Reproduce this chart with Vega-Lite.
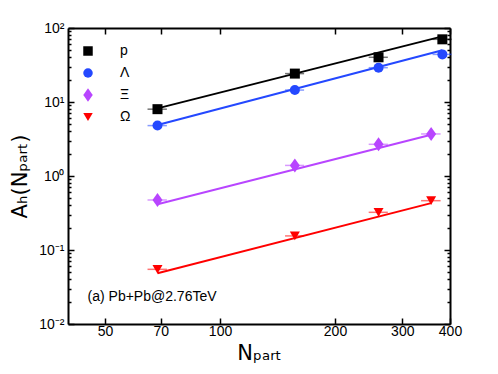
{
  "$schema": "https://vega.github.io/schema/vega-lite/v6.json",
  "width": 382,
  "height": 296,
  "autosize": {"type": "none"},
  "padding": {"left": 68, "top": 28, "right": 48, "bottom": 50},
  "background": "white",
  "config": {
    "font": "Liberation Sans",
    "view": {"stroke": null},
    "axis": {
      "domainColor": "black",
      "domainWidth": 2,
      "tickColor": "black",
      "tickWidth": 1.5,
      "labelColor": "black",
      "titleColor": "black",
      "labelFont": "Liberation Sans",
      "titleFont": "DejaVu Sans",
      "labelFontSize": 14,
      "titleFontSize": 21,
      "titleFontWeight": "normal",
      "grid": false
    }
  },
  "datasets": {
    "points": [
      {"species": "p", "N": 68.6, "A": 8.0, "lo": 64.6, "hi": 72.6},
      {"species": "p", "N": 157, "A": 24.2, "lo": 148, "hi": 166},
      {"species": "p", "N": 260, "A": 40.2, "lo": 245, "hi": 275},
      {"species": "p", "N": 382, "A": 70.3, "lo": 360, "hi": 404},
      {"species": "Λ", "N": 68.6, "A": 4.8, "lo": 64.6, "hi": 72.6},
      {"species": "Λ", "N": 157, "A": 14.5, "lo": 148, "hi": 166},
      {"species": "Λ", "N": 260, "A": 29.1, "lo": 245, "hi": 275},
      {"species": "Λ", "N": 382, "A": 44, "lo": 360, "hi": 404},
      {"species": "Ξ", "N": 68.6, "A": 0.474, "lo": 64.6, "hi": 72.6},
      {"species": "Ξ", "N": 157, "A": 1.39, "lo": 148, "hi": 166},
      {"species": "Ξ", "N": 260, "A": 2.68, "lo": 245, "hi": 275},
      {"species": "Ξ", "N": 357, "A": 3.7, "lo": 336, "hi": 378},
      {"species": "Ω", "N": 68.6, "A": 0.0548, "lo": 64.6, "hi": 72.6},
      {"species": "Ω", "N": 157, "A": 0.155, "lo": 148, "hi": 166},
      {"species": "Ω", "N": 260, "A": 0.323, "lo": 245, "hi": 275},
      {"species": "Ω", "N": 357, "A": 0.464, "lo": 336, "hi": 378}
    ],
    "fits": [
      {"species": "p", "N": 68.6, "A": 8.2},
      {"species": "p", "N": 382, "A": 77},
      {"species": "Λ", "N": 68.6, "A": 4.9},
      {"species": "Λ", "N": 382, "A": 50},
      {"species": "Ξ", "N": 68.6, "A": 0.415},
      {"species": "Ξ", "N": 357, "A": 3.6},
      {"species": "Ω", "N": 68.6, "A": 0.0484},
      {"species": "Ω", "N": 357, "A": 0.43}
    ],
    "note": [
      {"N": 45, "A": 0.0232, "label": "(a) Pb+Pb@2.76TeV"}
    ]
  },
  "layer": [
    {
      "data": {"name": "fits"},
      "mark": {"type": "line", "strokeWidth": 2},
      "encoding": {
        "x": {"field": "N", "type": "quantitative",
          "scale": {"type": "log", "domain": [40, 400], "nice": false},
          "axis": {"orient": "top", "values": [50, 70, 100, 200, 300, 400], "labels": false, "title": null, "tickSize": -6}},
        "y": {"field": "A", "type": "quantitative",
          "scale": {"type": "log", "domain": [0.01, 100], "nice": false},
          "axis": {"orient": "right", "labels": false, "title": null,
            "values": [0.01,0.02,0.03,0.04,0.05,0.06,0.07,0.08,0.09,0.1,0.2,0.3,0.4,0.5,0.6,0.7,0.8,0.9,1,2,3,4,5,6,7,8,9,10,20,30,40,50,60,70,80,90,100],
            "tickSize": {"expr": "abs(log(datum.value)/LN10 - round(log(datum.value)/LN10)) < 0.001 ? -6 : -3"}}},
        "detail": {"field": "species"},
        "stroke": {"field": "species", "type": "nominal",
          "scale": {"domain": ["Ω", "Ξ", "Λ", "p"], "range": ["#ff0000", "#b845ff", "#2448ff", "#000000"]},
          "legend": null}
      }
    },
    {
      "data": {"name": "points"},
      "mark": {"type": "rule", "strokeWidth": 1.5, "opacity": 0.55},
      "encoding": {
        "x": {"field": "lo", "type": "quantitative", "axis": null},
        "x2": {"field": "hi"},
        "y": {"field": "A", "type": "quantitative", "axis": null},
        "stroke": {"field": "species", "type": "nominal", "legend": null}
      }
    },
    {
      "data": {"name": "points"},
      "mark": {"type": "point", "filled": true, "opacity": 1},
      "encoding": {
        "x": {"field": "N", "type": "quantitative",
          "axis": {"orient": "bottom", "values": [50, 70, 100, 200, 300, 400], "format": "d", "title": "Nₚₐᵣₜ",
            "tickSize": -6, "labelPadding": 6, "labelFlush": false, "titlePadding": 4}},
        "y": {"field": "A", "type": "quantitative",
          "axis": {"orient": "left", "title": "Aₕ(Nₚₐᵣₜ)",
            "values": [0.01,0.02,0.03,0.04,0.05,0.06,0.07,0.08,0.09,0.1,0.2,0.3,0.4,0.5,0.6,0.7,0.8,0.9,1,2,3,4,5,6,7,8,9,10,20,30,40,50,60,70,80,90,100],
            "labelExpr": "abs(log(datum.value)/LN10 - round(log(datum.value)/LN10)) < 0.001 ? '10' + ['⁻²','⁻¹','⁰','¹','²'][round(log(datum.value)/LN10) + 2] : ''",
            "labelOverlap": false,
            "labelFlush": false,
            "tickSize": {"expr": "abs(log(datum.value)/LN10 - round(log(datum.value)/LN10)) < 0.001 ? -6 : -3"},
            "labelPadding": 10,
            "titlePadding": 8}},
        "color": {"field": "species", "type": "nominal",
          "scale": {"domain": ["p", "Λ", "Ξ", "Ω"], "range": ["#000000", "#2448ff", "#b845ff", "#ff0000"]},
          "legend": {"orient": "none", "legendX": 13, "legendY": 16, "title": null, "labelFontSize": 14, "labelFont": "Liberation Sans", "symbolSize": 90, "rowPadding": 8, "labelOffset": 25, "padding": 0}},
        "shape": {"field": "species", "type": "nominal",
          "scale": {"domain": ["p", "Λ", "Ξ", "Ω"], "range": ["square", "circle", "M0,-1.4L1,0L0,1.4L-1,0Z", "triangle-down"]}},
        "size": {"value": 100}
      }
    },
    {
      "data": {"name": "note"},
      "mark": {"type": "text", "align": "left", "baseline": "middle", "fontSize": 14, "font": "Liberation Sans", "color": "black"},
      "encoding": {
        "x": {"field": "N", "type": "quantitative", "axis": null},
        "y": {"field": "A", "type": "quantitative", "axis": null},
        "text": {"field": "label"}
      }
    }
  ],
  "resolve": {"axis": {"x": "independent", "y": "independent"}}
}
